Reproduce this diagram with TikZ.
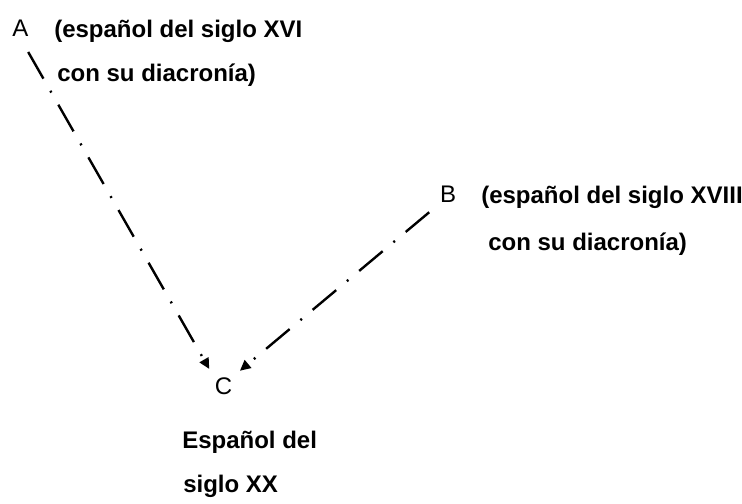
\documentclass[tikz,border=0pt]{standalone}
\usepackage{fontspec}
\setmainfont{Liberation Sans}
\usetikzlibrary{arrows.meta}

\begin{document}
\begin{tikzpicture}[x=0.75pt,y=-0.75pt,
    letter/.style={inner sep=1pt,font=\fontsize{18}{21}\selectfont},
    gloss/.style={anchor=base west,inner sep=0pt,font=\bfseries\fontsize{18}{21}\selectfont},
    link/.style={line width=1.8pt,dash pattern=on 23pt off 10.5pt on 1.5pt off 10.5pt,
                 -{Triangle[length=8pt,width=7.5pt]}}]
  \useasboundingbox (0,0) rectangle (742,503);
  % letters
  \node[letter] (A) at (20.4,28.5) {A};
  \node[letter] (B) at (448,194.7) {B};
  \node[letter] (C) at (223.5,386) {C};
  % glosses
  \node[gloss] (A_1) at (54,38) {(español del siglo XVI};
  \node[gloss] (A_2) at (57,82) {con su diacronía)};
  \node[gloss] (B_1) at (481,203) {(español del siglo XVIII};
  \node[gloss] (B_2) at (488,250) {con su diacronía)};
  \node[gloss] (C_1) at (182,448) {Español del};
  \node[gloss] (C_2) at (183,492) {siglo XX};
  % links
  \draw[link,shorten <=11.8pt,shorten >=6pt] (A.south) -- (C.north west);
  \draw[link,shorten <=9pt,shorten >=6pt] (B.south west) -- (C.north east);
\end{tikzpicture}
\end{document}
